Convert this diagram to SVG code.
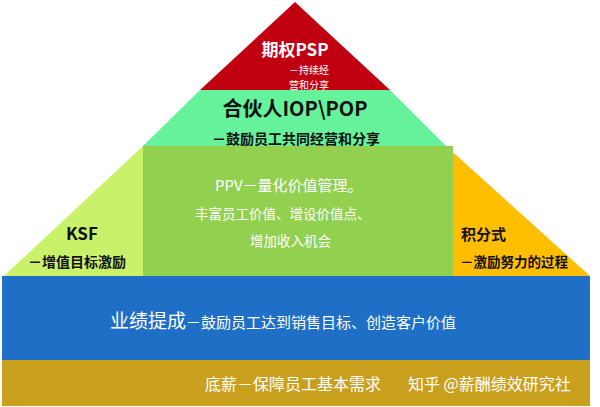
<svg xmlns="http://www.w3.org/2000/svg" width="600" height="407" viewBox="0 0 600 407">
<style>
text{font-family:"Noto Sans CJK SC","Liberation Sans",sans-serif}
.w{fill:#fff}.k{fill:#111}
</style>
<rect width="600" height="407" fill="#fff"/>
<g id="base"><rect x="2" y="360" width="588" height="46" fill="#c9a01e"/>
<text x="205" y="390" font-size="16" class="w">底薪－保障员工基本需求</text>
<text x="408" y="390" font-size="16" class="w">知乎 @薪酬绩效研究社</text></g>
<g id="perf"><rect x="2" y="276" width="588" height="84" fill="#1f6fc6"/>
<text x="110" y="328" class="w"><tspan font-size="19">业绩提成</tspan><tspan font-size="15">－鼓励员工达到销售目标、创造客户价值</tspan></text></g>
<g id="ksf"><polygon points="143,146 143,276 4,276" fill="#c9f26a"/>
<text x="66" y="240" font-size="17" font-weight="bold" class="k">KSF</text>
<text x="28" y="267" font-size="14" font-weight="bold" class="k">－增值目标激励</text></g>
<g id="points"><polygon points="446,146 590,276 453,276 453,146" fill="#ffbf00"/>
<text x="461" y="240" font-size="15" font-weight="bold" class="k">积分式</text>
<text x="460" y="267" font-size="13.5" font-weight="bold" class="k">－激励努力的过程</text></g>
<g id="ppv"><rect x="143" y="146" width="310" height="130" fill="#92d050"/>
<text x="215" y="191" font-size="15" class="w">PPV－量化价值管理。</text>
<text x="195" y="219" font-size="13.5" class="w">丰富员工价值、增设价值点、</text>
<text x="250" y="246" font-size="13.5" class="w">增加收入机会</text></g>
<g id="partner"><polygon points="200,90 390,90 446,146 143,146" fill="#66f29a"/>
<text x="295" y="116" font-size="20" font-weight="bold" text-anchor="middle" class="k">合伙人IOP\POP</text>
<text x="296" y="144" font-size="14" font-weight="bold" text-anchor="middle" class="k">－鼓励员工共同经营和分享</text></g>
<g id="psp"><polygon points="295,2 390,90 200,90" fill="#c00010"/>
<text x="295" y="56" font-size="17" font-weight="bold" text-anchor="middle" class="w">期权PSP</text>
<text x="289" y="74" font-size="10" class="w">－持续经</text>
<text x="289" y="89" font-size="10" class="w">营和分享</text></g>
<g id="connectors"/>
</svg>
